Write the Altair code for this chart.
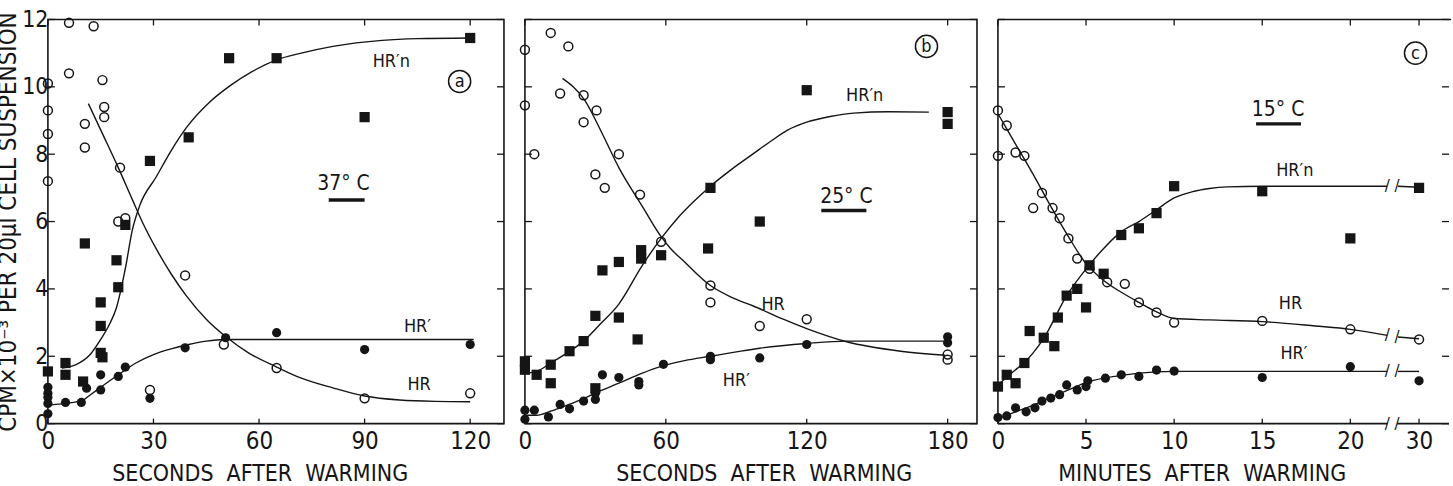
import altair as alt
import pandas as pd

FONT = "DejaVu Sans Condensed, Liberation Sans Narrow, Liberation Sans, sans-serif"
INK = "#151515"
NB = "\u00a0"

# ---------------- panel a (37 C, seconds) ----------------
a_open_x = [0, 0, 0, 0, 6, 13, 6, 15.5, 16, 16, 10.5, 10.5, 20.5, 20, 22, 29, 39, 50, 65, 90, 120]
a_open_y = [10.1, 9.3, 8.6, 7.2, 11.9, 11.8, 10.4, 10.2, 9.4, 9.1, 8.9, 8.2, 7.6, 6.0, 6.1, 1.0, 4.4, 2.35, 1.65, 0.75, 0.9]
a_sq_x = [0, 5, 5, 10, 15, 15.5, 15, 15, 20, 19.5, 22, 10.5, 29, 40, 51.5, 65, 90, 120]
a_sq_y = [1.55, 1.8, 1.45, 1.25, 2.1, 1.97, 2.9, 3.6, 4.05, 4.85, 5.9, 5.35, 7.8, 8.5, 10.85, 10.85, 9.1, 11.45]
a_dot_x = [0, 0, 0, 0, 0, 5, 9.5, 11, 15, 15, 20, 22, 29, 39, 50.5, 65, 90, 120]
a_dot_y = [1.08, 0.9, 0.78, 0.6, 0.29, 0.63, 0.63, 1.05, 1.0, 1.45, 1.4, 1.68, 0.75, 2.25, 2.55, 2.7, 2.2, 2.35]
a_hrn_x = [4, 8, 12, 15, 17.5, 19.5, 22, 24, 26, 30.8, 35, 39.3, 46, 52, 58, 65, 72, 81, 95, 105, 120]
a_hrn_y = [1.65, 1.75, 2.05, 2.5, 2.95, 3.45, 4.6, 5.75, 6.45, 7.33, 8.1, 8.78, 9.55, 10.05, 10.45, 10.8, 11.0, 11.2, 11.38, 11.43, 11.45]
a_hr_x = [11.5, 16, 20, 24, 27, 31, 35, 39.3, 45, 50.7, 57, 65, 72, 81, 90, 100, 110, 120]
a_hr_y = [9.5, 8.5, 7.6, 6.65, 5.95, 5.15, 4.45, 3.8, 3.1, 2.57, 2.1, 1.68, 1.35, 1.06, 0.82, 0.7, 0.66, 0.65]
a_hrp_x = [0, 5, 10, 12, 15, 20, 25, 30, 35, 40, 45, 50, 60, 80, 100, 121]
a_hrp_y = [0.55, 0.6, 0.7, 0.85, 1.08, 1.45, 1.8, 2.05, 2.22, 2.35, 2.45, 2.5, 2.5, 2.5, 2.5, 2.5]

# ---------------- panel b (25 C, seconds) ----------------
b_open_x = [0, 11, 18.5, 0, 15, 25, 30.5, 25, 4, 40, 30, 34, 49, 58, 79, 79, 100, 120, 180, 180]
b_open_y = [11.1, 11.6, 11.2, 9.45, 9.8, 9.75, 9.3, 8.95, 8.0, 8.0, 7.4, 7.0, 6.8, 5.4, 4.1, 3.6, 2.9, 3.1, 2.05, 1.9]
b_sq_x = [120, 180, 180, 79, 100, 78, 49.5, 49.5, 58, 40, 33, 30, 40, 48, 25, 19, 11, 0, 0, 5, 11, 30]
b_sq_y = [9.9, 9.25, 8.9, 7.0, 6.0, 5.2, 5.15, 4.9, 5.0, 4.8, 4.55, 3.2, 3.15, 2.5, 2.45, 2.15, 1.75, 1.85, 1.6, 1.45, 1.2, 1.05]
b_dot_x = [0, 0, 4, 10, 15, 19, 25, 30, 30, 33, 40, 48.5, 48.5, 59, 79, 79, 100, 120, 180, 180]
b_dot_y = [0.4, 0.13, 0.4, 0.2, 0.57, 0.44, 0.67, 0.72, 0.9, 1.45, 1.37, 1.25, 1.15, 1.76, 2.0, 1.9, 1.95, 2.35, 2.58, 2.4]
b_hrn_x = [1, 5, 11, 18, 25, 32, 40, 50, 58, 65, 72, 79, 88, 97, 105, 112, 120, 130, 140, 155, 172]
b_hrn_y = [1.5, 1.55, 1.8, 2.1, 2.45, 2.95, 3.55, 4.7, 5.5, 6.1, 6.6, 7.05, 7.55, 8.0, 8.4, 8.72, 8.95, 9.12, 9.22, 9.26, 9.25]
b_hr_x = [16, 25.5, 33, 40, 50, 58, 62, 68, 79, 88, 97, 110, 120, 137, 160, 179]
b_hr_y = [10.25, 9.6, 8.6, 7.6, 6.45, 5.55, 5.2, 4.8, 4.1, 3.75, 3.5, 3.1, 2.82, 2.43, 2.15, 2.03]
b_hrp_x = [0, 5, 11, 18, 25.5, 32, 40, 50, 58, 68, 79, 90, 100, 120, 137, 181]
b_hrp_y = [0.25, 0.25, 0.37, 0.55, 0.76, 0.97, 1.2, 1.5, 1.7, 1.87, 2.0, 2.13, 2.24, 2.38, 2.45, 2.45]

# ---------------- panel c (15 C, minutes, broken axis 20 -> 30) ----------------
c_open_x = [0, 0.5, 0, 1, 1.5, 2, 2.5, 3.1, 3.5, 4, 4.5, 5.2, 6.2, 7.2, 8, 9, 10, 15, 20, 30]
c_open_y = [9.3, 8.85, 7.95, 8.05, 7.95, 6.4, 6.85, 6.4, 6.1, 5.5, 4.9, 4.6, 4.2, 4.15, 3.6, 3.3, 3.0, 3.05, 2.8, 2.5]
c_sq_x = [10, 15, 30, 9, 8, 7, 20, 6, 5.2, 5, 4.5, 3.9, 3.4, 2.6, 1.8, 3.2, 1.5, 0.5, 1, 0]
c_sq_y = [7.05, 6.9, 7.0, 6.25, 5.8, 5.6, 5.5, 4.45, 4.7, 3.45, 4.0, 3.8, 3.15, 2.55, 2.75, 2.3, 1.8, 1.45, 1.2, 1.1]
c_dot_x = [0, 0.5, 1, 1.6, 2.1, 2.5, 3, 3.5, 3.9, 4.5, 5, 5.1, 6.1, 7, 8, 9, 10, 15, 20, 30]
c_dot_y = [0.18, 0.23, 0.47, 0.35, 0.47, 0.67, 0.76, 0.86, 1.15, 1.0, 1.1, 1.27, 1.35, 1.45, 1.4, 1.59, 1.56, 1.37, 1.69, 1.27]
c_hr_x = [0, 1, 2, 3, 4, 5, 6, 7, 8, 9, 10, 12, 15, 18, 20, 22.1, 22.5, 30]
c_hr_y = [9.2, 8.3, 7.4, 6.45, 5.55, 4.75, 4.25, 3.9, 3.6, 3.32, 3.12, 3.08, 3.03, 2.9, 2.8, 2.62, 2.57, 2.52]
c_hrn_x = [0, 1, 1.5, 2, 2.64, 3.86, 5.2, 6, 7, 8, 9, 10, 11, 12, 13, 15, 20, 22.1, 22.5, 30]
c_hrn_y = [1.15, 1.6, 1.82, 2.1, 2.57, 3.76, 4.72, 5.2, 5.7, 6.0, 6.35, 6.7, 6.88, 6.98, 7.03, 7.05, 7.05, 7.05, 7.05, 7.02]
c_hrp_x = [0, 1, 2, 3, 4, 5, 6, 7, 8, 10, 15, 20, 22.1, 22.5, 30]
c_hrp_y = [0.15, 0.35, 0.55, 0.78, 1.0, 1.22, 1.35, 1.43, 1.5, 1.55, 1.55, 1.55, 1.55, 1.55, 1.55]

Y_TICKS = [0, 2, 4, 6, 8, 10, 12]
A_TICKS = [0, 30, 60, 90, 120]
B_TICKS = [0, 60, 120, 180]
C_TICKS = [0, 5, 10, 15, 20, 30]

BREAK_AT = 22.2
def brk(t):
    """broken minutes axis: linear to ~22, then compressed so 30 sits just after the break"""
    return t if t <= BREAK_AT else 23.9 - (30 - t) * 0.16


def ident(v):
    return v


def pts(xs, ys, f=ident):
    return pd.DataFrame({"x": [f(v) for v in xs], "y": ys})


def curve(xs, ys, f=ident, broken=False):
    return pd.DataFrame({"x": [f(v) for v in xs], "y": ys,
                         "seg": [1 if (broken and v > BREAK_AT) else 0 for v in xs]})


def panel(xdom, W, H, xticks, curves, opens, dots, squares, labels, temp, letter,
          show_y, xtitle, title_x, f=ident, broken=False):
    xs = alt.Scale(domain=xdom, nice=False, zero=False)
    ys = alt.Scale(domain=[0, 12], nice=False, zero=False)
    xaxis = alt.Axis(values=[f(v) for v in xticks], grid=False, ticks=False, domain=False,
                     labelFontSize=24, labelPadding=6, labelFlush=False,
                     title=xtitle, titleFontSize=23, titleFontWeight="normal",
                     titlePadding=9, titleX=title_x, titleAnchor="start",
                     labelExpr="datum.value > 23 ? '30' : datum.label" if broken else "datum.label")
    if show_y:
        yaxis = alt.Axis(values=Y_TICKS, grid=False, ticks=False, domain=False,
                         labelFontSize=23, labelPadding=0, labelFlush=False,
                         title="CPM×10⁻³  PER 20μl CELL SUSPENSION", titleFontSize=24,
                         titleFontWeight="normal", titlePadding=1)
    else:
        yaxis = None
    X = alt.X("x:Q", scale=xs, axis=xaxis)
    Y = alt.Y("y:Q", scale=ys, axis=yaxis)

    layers = []
    cdf = pd.concat([curve(cx, cy, f, broken).assign(name=n) for n, (cx, cy) in curves.items()])
    layers.append(alt.Chart(cdf).mark_line(color=INK, strokeWidth=1.4, interpolate="monotone")
                  .encode(x=X, y=Y, detail=["name:N", "seg:N"]))
    layers.append(alt.Chart(pts(*opens, f)).mark_point(shape="circle", filled=False, color=INK,
                                                       strokeWidth=1.5, size=80, opacity=1)
                  .encode(x=X, y=Y))
    layers.append(alt.Chart(pts(*dots, f)).mark_point(shape="circle", filled=True, color=INK,
                                                      size=85, opacity=1)
                  .encode(x=X, y=Y))
    layers.append(alt.Chart(pts(*squares, f)).mark_point(shape="square", filled=True, color=INK,
                                                         size=105, opacity=1)
                  .encode(x=X, y=Y))
    ldf = pd.DataFrame({"x": [l[0] for l in labels], "y": [l[1] for l in labels],
                        "t": [l[2] for l in labels]})
    layers.append(alt.Chart(ldf).mark_text(font=FONT, fontSize=18, color=INK, align="center",
                                           baseline="middle")
                  .encode(x=X, y=Y, text="t:N"))
    tx, ty, ttext, ux1, ux2, uy = temp
    layers.append(alt.Chart(pd.DataFrame({"x": [tx], "y": [ty], "t": [ttext]}))
                  .mark_text(font=FONT, fontSize=21, color=INK, align="center", baseline="middle")
                  .encode(x=X, y=Y, text="t:N"))
    layers.append(alt.Chart(pd.DataFrame({"x": [ux1], "x2": [ux2], "y": [uy]}))
                  .mark_rule(color=INK, strokeWidth=3.5)
                  .encode(x=X, x2="x2:Q", y=Y))
    lx, ly, lt = letter
    ldf2 = pd.DataFrame({"x": [lx], "y": [ly], "t": [lt]})
    layers.append(alt.Chart(ldf2).mark_point(shape="circle", filled=False, color=INK,
                                             strokeWidth=1.5, size=490, opacity=1)
                  .encode(x=X, y=Y))
    layers.append(alt.Chart(ldf2).mark_text(font=FONT, fontSize=18, color=INK, align="center",
                                            baseline="middle", dy=1)
                  .encode(x=X, y=Y, text="t:N"))
    ytd = pd.DataFrame({"y": Y_TICKS})
    xtd = pd.DataFrame({"x": [f(v) for v in xticks]})
    layers.append(alt.Chart(ytd).mark_rule(color=INK, strokeWidth=1.3)
                  .encode(y=Y, x=alt.value(0), x2=alt.value(7)))
    layers.append(alt.Chart(ytd).mark_rule(color=INK, strokeWidth=1.3)
                  .encode(y=Y, x=alt.value(W - 7), x2=alt.value(W)))
    layers.append(alt.Chart(xtd).mark_rule(color=INK, strokeWidth=1.3)
                  .encode(x=X, y=alt.value(0), y2=alt.value(6)))
    layers.append(alt.Chart(xtd).mark_rule(color=INK, strokeWidth=1.3)
                  .encode(x=X, y=alt.value(H - 5), y2=alt.value(H)))
    if broken:
        one = pd.DataFrame({"k": [0]})
        layers.append(alt.Chart(one).mark_rule(color=INK, strokeWidth=1.6)
                      .encode(x=alt.value(0), x2=alt.value(W + 2), y=alt.value(0)))
        layers.append(alt.Chart(one).mark_rule(color=INK, strokeWidth=1.6)
                      .encode(x=alt.value(0), y=alt.value(0), y2=alt.value(H)))
        seg = pd.DataFrame({"x": [0, 22.65], "x2": [22.1, 25.6], "y": [0, 0]})
        layers.append(alt.Chart(seg).mark_rule(color=INK, strokeWidth=1.6)
                      .encode(x=X, x2="x2:Q", y=Y))
        slash_x = [22.1, 22.65, 22.1, 22.65, 22.1, 22.65, 22.1, 22.65]
        slash_y = [0, 0, 2.62, 2.57, 7.05, 7.05, 1.55, 1.55]
        layers.append(alt.Chart(pd.DataFrame({"x": slash_x, "y": slash_y, "t": ["/"] * len(slash_x)}))
                      .mark_text(font="DejaVu Sans", fontSize=15, color=INK, align="center",
                                 baseline="middle")
                      .encode(x=X, y=Y, text="t:N"))
        view = alt.ViewBackground(stroke="transparent")
    else:
        view = alt.ViewBackground(stroke=INK, strokeWidth=1.6)
    return alt.layer(*layers).properties(width=W, height=H, view=view)


H = 405
pa = panel([0, 129.6], 457, H, A_TICKS,
           {"hrn": (a_hrn_x, a_hrn_y), "hr": (a_hr_x, a_hr_y), "hrp": (a_hrp_x, a_hrp_y)},
           (a_open_x, a_open_y), (a_dot_x, a_dot_y), (a_sq_x, a_sq_y),
           [(97.6, 10.75, "HR′n"), (105, 2.87, "HR′"), (105.5, 1.16, "HR")],
           (84, 7.1, "37° C", 79.8, 90, 6.64), (117, 10.16, "a"),
           True, f"SECONDS{NB}{NB}AFTER{NB}{NB}WARMING", 64)
pb = panel([0, 192.5], 453, H, B_TICKS,
           {"hrn": (b_hrn_x, b_hrn_y), "hr": (b_hr_x, b_hr_y), "hrp": (b_hrp_x, b_hrp_y)},
           (b_open_x, b_open_y), (b_dot_x, b_dot_y), (b_sq_x, b_sq_y),
           [(144.7, 9.74, "HR′n"), (105.7, 3.53, "HR"), (90, 1.27, "HR′")],
           (136.9, 6.74, "25° C", 126.2, 145.4, 6.33), (171, 11.2, "b"),
           False, f"SECONDS{NB}{NB}AFTER{NB}{NB}WARMING", 91)
pc = panel([0, 25.6], 452, H, C_TICKS,
           {"hrn": (c_hrn_x, c_hrn_y), "hr": (c_hr_x, c_hr_y), "hrp": (c_hrp_x, c_hrp_y)},
           (c_open_x, c_open_y), (c_dot_x, c_dot_y), (c_sq_x, c_sq_y),
           [(16.85, 7.5, "HR′n"), (16.6, 3.55, "HR"), (16.8, 2.08, "HR′")],
           (15.9, 9.3, "15° C", 14.65, 17.2, 8.9), (23.7, 11.0, "c"),
           False, f"MINUTES{NB}{NB}AFTER{NB}{NB}WARMING", 60, f=brk, broken=True)

chart = alt.HConcatChart(hconcat=[pa, pb, pc], spacing=21, bounds="flush").properties(
    padding={"left": -5, "top": 6, "right": 0, "bottom": 0}
).configure(font=FONT).configure_axis(labelFont=FONT, titleFont=FONT, labelColor=INK,
                                       titleColor=INK).configure_text(font=FONT)

chart.save("out.html", embed_options={"renderer": "svg", "actions": False})
